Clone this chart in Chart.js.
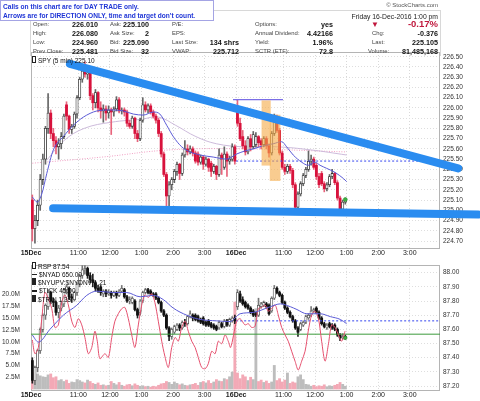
<!DOCTYPE html>
<html>
<head>
<meta charset="utf-8">
<script src="https://cdn.jsdelivr.net/npm/chart.js@4.4.1/dist/chart.umd.min.js"></script>
<style>
 html,body{margin:0;padding:0;background:#fff;}
 #wrap{position:relative;width:480px;height:401px;overflow:hidden;font-family:"Liberation Sans",Arial,sans-serif;}
 canvas{position:absolute;left:0;}
 #top{top:0;} #bot{top:258px;}
 .t{position:absolute;white-space:nowrap;line-height:9px;height:9px;}
 .l{font-size:5.9px;color:#444;}
 .v{font-size:7.2px;font-weight:bold;color:#111;}
 #info{position:absolute;left:30px;top:10px;width:409px;height:45px;border:1px solid #d8d8d8;border-bottom:none;}
 #call{position:absolute;left:0;top:0;width:212px;height:19px;border:1px solid #a4a4e4;background:#fff;}
 .c{font-size:6.6px;font-weight:bold;color:#1f35d6;}
 .lg{font-size:6.5px;color:#111;}
 .ic{display:inline-block;width:2px;height:5px;border:1px solid #222;background:#fff;margin-right:2px;vertical-align:-0.5px;}
 .ln{display:inline-block;width:5px;height:1.5px;background:#222;margin-right:2px;vertical-align:1.5px;}
</style>
</head>
<body>
<div id="wrap">
<canvas id="top" width="480" height="258"></canvas>
<canvas id="bot" width="480" height="143"></canvas>
<div id="info"></div>
<div class="t" style="right:42px;top:0.5px;font-size:6px;color:#555">© StockCharts.com</div>
<div class="t" style="right:42px;top:11.5px;font-size:6.8px;color:#222">Friday 16-Dec-2016 1:00 pm</div>

<div class="t l" style="left:33px;top:19.5px">Open:</div>
<div class="t v" style="right:382px;top:19.5px">226.010</div>
<div class="t l" style="left:110px;top:19.5px">Ask:</div>
<div class="t v" style="right:331px;top:19.5px">225.100</div>
<div class="t l" style="left:172px;top:19.5px">P/E:</div>
<div class="t l" style="left:255px;top:19.5px">Options:</div>
<div class="t v" style="right:147px;top:19.5px">yes</div>
<div class="t" style="left:371px;top:19.5px;color:#c0173c;font-size:8px">▼</div>
<div class="t v" style="right:42px;top:19px;color:#c0173c;font-size:9.5px">-0.17%</div>

<div class="t l" style="left:33px;top:28.5px">High:</div>
<div class="t v" style="right:382px;top:28.5px">226.080</div>
<div class="t l" style="left:110px;top:28.5px">Ask Size:</div>
<div class="t v" style="right:331px;top:28.5px">2</div>
<div class="t l" style="left:172px;top:28.5px">EPS:</div>
<div class="t l" style="left:255px;top:28.5px">Annual Dividend:</div>
<div class="t v" style="right:147px;top:28.5px">4.42166</div>
<div class="t l" style="left:372px;top:28.5px">Chg:</div>
<div class="t v" style="right:42px;top:28.5px">-0.376</div>

<div class="t l" style="left:33px;top:37.5px">Low:</div>
<div class="t v" style="right:382px;top:37.5px">224.960</div>
<div class="t l" style="left:110px;top:37.5px">Bid:</div>
<div class="t v" style="right:331px;top:37.5px">225.090</div>
<div class="t l" style="left:172px;top:37.5px">Last Size:</div>
<div class="t v" style="right:241px;top:37.5px">134 shrs</div>
<div class="t l" style="left:255px;top:37.5px">Yield:</div>
<div class="t v" style="right:147px;top:37.5px">1.96%</div>
<div class="t l" style="left:372px;top:37.5px">Last:</div>
<div class="t v" style="right:42px;top:37.5px">225.105</div>

<div class="t l" style="left:33px;top:46.5px">Prev Close:</div>
<div class="t v" style="right:382px;top:46.5px">225.481</div>
<div class="t l" style="left:110px;top:46.5px">Bid Size:</div>
<div class="t v" style="right:331px;top:46.5px">32</div>
<div class="t l" style="left:172px;top:46.5px">VWAP:</div>
<div class="t v" style="right:241px;top:46.5px">225.712</div>
<div class="t l" style="left:255px;top:46.5px">SCTR (ETF):</div>
<div class="t v" style="right:147px;top:46.5px">72.8</div>
<div class="t l" style="left:368px;top:46.5px">Volume:</div>
<div class="t v" style="right:42px;top:46.5px">81,485,168</div>

<div id="call"></div>
<div class="t c" style="left:3px;top:1.5px">Calls on this chart are for DAY TRADE only.</div>
<div class="t c" style="left:3px;top:11px">Arrows are for DIRECTION ONLY, time and target don't count.</div>

<div class="t lg" style="left:32px;top:55.5px"><span class="ic"></span>SPY (5 min) 225.10</div>

<div class="t lg" style="left:32px;top:261.5px"><span class="ic"></span>RSP 87.54</div>
<div class="t lg" style="left:32px;top:269.5px"><span class="ln"></span>$NYAD 650.00</div>
<div class="t lg" style="left:32px;top:277.5px"><span class="ic" style="background:#222"></span>$NYUPV:$NYDNV 1.21</div>
<div class="t lg" style="left:32px;top:286px"><span class="ln"></span>$TICK 45.00</div>
<div class="t lg" style="left:32px;top:294.5px"><span class="ic" style="background:#222"></span>$TRIN 1.35</div>
</div>

<script>
// ---------- axis ticks ----------
const tickIdx = [0, 18, 30, 42, 54, 66, 78, 96, 108, 120, 132, 144];
const tickLbl = ['15Dec','11:00','12:00','1:00','2:00','3:00','16Dec','11:00','12:00','1:00','2:00','3:00'];
const spyTicks = [224.7,224.8,224.9,225.0,225.1,225.2,225.3,225.4,225.5,225.6,225.7,225.8,225.9,226.0,226.1,226.2,226.3,226.4,226.5];
const rspTicks = [87.2,87.3,87.4,87.5,87.6,87.7,87.8,87.9,88.0];
const volTicks = [2.5,5,7.5,10,12.5,15,17.5,20];

// ---------- SPY 5-min candles (15 Dec 9:30 -> 16 Dec 1:00) ----------
const spyOpen = [
225.10,224.82,224.90,225.05,225.30,225.50,225.80,225.95,225.75,225.68,
225.62,225.65,225.72,226.03,225.92,225.79,225.82,225.94,226.10,226.28,
226.36,226.33,226.34,226.12,226.05,226.15,226.00,225.97,225.99,225.95,
225.98,225.96,225.99,226.08,225.97,225.98,225.96,225.85,225.82,225.90,
225.75,225.70,225.88,226.03,225.98,226.02,225.96,225.92,225.88,225.75,
225.55,225.35,225.14,225.25,225.30,225.38,225.45,225.36,225.54,225.60,
225.57,225.60,225.56,225.55,225.47,225.52,225.45,225.50,225.46,225.38,
225.43,225.35,225.54,225.42,225.55,225.48,225.50,225.62,
226.01,225.85,225.72,225.63,225.57,225.70,225.62,225.64,225.72,225.68,
225.64,225.70,225.63,225.56,225.75,225.91,225.78,225.56,225.42,225.38,
225.43,225.39,225.25,225.03,225.16,225.26,225.34,225.40,225.48,225.50,
225.44,225.33,225.36,225.26,225.21,225.25,225.33,225.36,225.27,225.12,
225.01,225.08];
const spyHigh = [
225.15,224.95,225.10,225.35,225.55,225.82,226.14,225.98,225.80,225.72,
225.70,225.76,225.94,226.06,225.93,225.84,225.96,226.12,226.30,226.40,
226.45,226.40,226.36,226.14,226.18,226.16,226.06,226.03,226.02,226.02,
226.00,226.01,226.11,226.10,226.00,226.00,225.98,225.88,225.92,225.91,
225.78,225.90,226.10,226.06,226.04,226.04,225.98,225.94,225.90,225.77,
225.57,225.37,225.28,225.32,225.40,225.47,225.46,225.56,225.68,225.64,
225.63,225.62,225.58,225.57,225.54,225.53,225.52,225.51,225.48,225.45,
225.44,225.60,225.56,225.62,225.57,225.53,225.65,225.64,
226.08,225.90,225.78,225.68,225.72,225.74,225.77,225.76,225.73,225.70,
225.72,225.72,225.65,225.77,225.94,225.93,225.80,225.58,225.45,225.45,
225.45,225.41,225.27,225.18,225.28,225.36,225.42,225.58,225.54,225.52,
225.46,225.36,225.38,225.28,225.27,225.35,225.40,225.37,225.29,225.14,
225.10,225.12];
const spyLow = [
224.70,224.68,224.85,225.00,225.25,225.45,225.75,225.70,225.62,225.55,
225.50,225.60,225.70,225.88,225.75,225.75,225.80,225.90,226.08,226.25,
226.30,226.28,226.08,225.98,226.00,225.96,225.90,225.86,225.88,225.90,
225.74,225.92,225.97,225.95,225.94,225.92,225.82,225.80,225.80,225.70,
225.67,225.68,225.86,225.96,225.95,225.94,225.90,225.85,225.72,225.52,
225.33,225.03,225.04,225.20,225.27,225.34,225.30,225.34,225.52,225.54,
225.55,225.53,225.46,225.44,225.45,225.40,225.43,225.38,225.33,225.36,
225.30,225.33,225.35,225.40,225.33,225.45,225.48,225.45,
225.82,225.68,225.60,225.54,225.55,225.58,225.60,225.62,225.62,225.60,
225.62,225.60,225.52,225.54,225.73,225.76,225.54,225.40,225.35,225.36,
225.36,225.22,224.97,225.00,225.14,225.24,225.32,225.38,225.44,225.40,
225.30,225.22,225.24,225.18,225.19,225.23,225.31,225.25,225.10,224.96,
225.00,225.06];
const spyClose = [
224.82,224.90,225.05,225.30,225.50,225.80,225.95,225.75,225.68,225.62,
225.65,225.72,225.92,225.92,225.79,225.82,225.94,226.10,226.28,226.36,
226.33,226.34,226.12,226.05,226.15,226.00,225.97,225.99,225.95,225.98,
225.96,225.99,226.08,225.97,225.98,225.96,225.85,225.82,225.90,225.75,
225.70,225.88,226.03,225.98,226.02,225.96,225.92,225.88,225.75,225.55,
225.35,225.14,225.25,225.30,225.38,225.45,225.36,225.54,225.60,225.57,
225.60,225.56,225.48,225.47,225.52,225.45,225.50,225.42,225.38,225.43,
225.35,225.54,225.50,225.55,225.48,225.50,225.62,225.48,
225.85,225.70,225.63,225.57,225.70,225.62,225.74,225.72,225.66,225.64,
225.70,225.63,225.56,225.75,225.91,225.78,225.56,225.42,225.38,225.43,
225.39,225.25,225.03,225.16,225.26,225.34,225.40,225.48,225.50,225.42,
225.33,225.25,225.26,225.21,225.25,225.33,225.36,225.27,225.12,225.01,
225.08,225.105];

// SPY moving average: bar position / value
const spyMaX = [0,1.9,3.6,5.5,8,11.8,15.6,19.4,24.5,29.5,34.6,38.4,42.2,46,48.5,51.1,53.6,56.8,60,63.8,68.8,73.9,77.7,80.9,84,87.8,91.6,94.8,96.7,99.2,102.4,104.9,107.5,109.4,111.9,115.1,118.3,119.5];
const spyMaY = [225.13,225.08,225.16,225.36,225.59,225.72,225.83,225.91,225.97,225.98,225.97,225.94,225.93,225.96,225.94,225.83,225.72,225.62,225.57,225.54,225.52,225.50,225.55,225.58,225.60,225.63,225.65,225.67,225.62,225.54,225.47,225.44,225.47,225.44,225.41,225.37,225.31,225.28];
// faint longer averages
const slowMaX = [5.5,12,19.7,30,41.6,48,54.5,62.2,70,80.3,93,105.9,119.5];
const slowMaY = [225.49,225.68,225.80,225.86,225.89,225.91,225.83,225.72,225.65,225.62,225.62,225.59,225.54];
const longMaX = [0,26.6,52.3,80.6,119.5];
const longMaY = [225.46,225.52,225.59,225.60,225.57];

// annotations on the price panel
const spyPrevClose = 225.481;
const dayTwoStart = 77.5;
const hodLevel = 226.08, hodFrom = 76.3, hodTo = 95.3;
const upperTrendX = [14.3, 161.9], upperTrendY = [226.43, 225.41];
const lowerTrendX = [7.9, 169.5],  lowerTrendY = [225.02, 224.96];
const boxX = [88.9, 92.3], boxLo = [225.44, 225.29], boxHi = [226.07, 225.93];
const lastIdx = 119, lastSpy = 225.105, lastRsp = 87.54;

// ---------- lower panel: RSP candles ----------
const rspOpen = [
87.38,87.24,87.33,87.45,87.60,87.70,87.76,87.86,87.80,87.79,
87.72,87.75,87.78,87.88,87.89,87.83,87.81,87.86,87.92,87.98,
88.02,88.03,87.98,87.95,87.93,87.89,87.90,87.85,87.87,87.85,
87.86,87.84,87.86,87.84,87.87,87.88,87.83,87.80,87.79,87.80,
87.74,87.72,87.80,87.86,87.88,87.87,87.85,87.85,87.82,87.79,
87.73,87.70,87.61,87.55,87.58,87.60,87.63,87.61,87.65,87.64,
87.69,87.70,87.70,87.69,87.67,87.68,87.65,87.66,87.64,87.63,
87.62,87.61,87.64,87.62,87.66,87.63,87.66,87.68,
87.76,87.85,87.81,87.79,87.77,87.75,87.73,87.71,87.70,87.76,
87.77,87.78,87.77,87.73,87.82,87.89,87.86,87.84,87.79,87.75,
87.72,87.69,87.66,87.61,87.60,87.63,87.65,87.68,87.70,87.73,
87.75,87.72,87.68,87.64,87.61,87.64,87.63,87.63,87.60,87.56,
87.54,87.55];
const rspHigh = [
87.40,87.34,87.46,87.61,87.71,87.78,87.88,87.87,87.82,87.80,
87.77,87.80,87.89,87.91,87.90,87.85,87.87,87.93,87.99,88.05,
88.05,88.04,88.00,87.99,87.94,87.91,87.91,87.88,87.88,87.88,
87.87,87.87,87.87,87.88,87.91,87.89,87.84,87.83,87.83,87.81,
87.75,87.81,87.87,87.89,87.89,87.88,87.86,87.86,87.83,87.80,
87.74,87.71,87.62,87.61,87.63,87.64,87.64,87.66,87.67,87.70,
87.73,87.71,87.71,87.70,87.68,87.69,87.66,87.67,87.65,87.64,
87.63,87.66,87.65,87.67,87.67,87.68,87.69,87.70,
87.88,87.87,87.83,87.80,87.78,87.76,87.74,87.72,87.82,87.79,
87.80,87.79,87.78,87.83,87.91,87.90,87.87,87.85,87.80,87.76,
87.73,87.70,87.67,87.62,87.65,87.66,87.70,87.71,87.76,87.75,
87.76,87.73,87.69,87.65,87.64,87.65,87.64,87.64,87.61,87.57,
87.57,87.56];
const rspLow = [
87.22,87.21,87.30,87.43,87.58,87.67,87.74,87.78,87.76,87.70,
87.68,87.73,87.76,87.85,87.81,87.79,87.80,87.84,87.90,87.96,
87.99,87.96,87.93,87.90,87.87,87.86,87.84,87.83,87.83,87.84,
87.82,87.83,87.82,87.83,87.86,87.82,87.79,87.78,87.78,87.73,
87.68,87.70,87.79,87.85,87.85,87.84,87.83,87.81,87.78,87.72,
87.69,87.60,87.52,87.53,87.57,87.59,87.59,87.60,87.62,87.63,
87.68,87.66,87.66,87.65,87.64,87.63,87.62,87.62,87.61,87.60,
87.59,87.60,87.61,87.61,87.62,87.62,87.65,87.64,
87.74,87.79,87.77,87.75,87.74,87.71,87.69,87.69,87.69,87.75,
87.76,87.75,87.70,87.72,87.81,87.85,87.83,87.78,87.74,87.71,
87.68,87.65,87.60,87.55,87.59,87.62,87.64,87.67,87.69,87.72,
87.71,87.67,87.63,87.61,87.60,87.61,87.60,87.59,87.55,87.52,
87.53,87.53];
const rspClose = [
87.24,87.33,87.45,87.60,87.70,87.77,87.86,87.80,87.79,87.72,
87.75,87.78,87.88,87.90,87.83,87.82,87.86,87.92,87.98,88.02,
88.03,87.98,87.95,87.93,87.89,87.87,87.86,87.87,87.85,87.86,
87.84,87.86,87.84,87.87,87.89,87.83,87.80,87.81,87.82,87.74,
87.70,87.80,87.86,87.88,87.86,87.85,87.84,87.82,87.79,87.73,
87.70,87.61,87.55,87.60,87.62,87.63,87.61,87.65,87.64,87.69,
87.71,87.68,87.67,87.66,87.65,87.64,87.63,87.63,87.62,87.61,
87.60,87.65,87.62,87.66,87.63,87.67,87.68,87.66,
87.86,87.80,87.78,87.76,87.75,87.72,87.70,87.70,87.77,87.78,
87.79,87.76,87.71,87.82,87.89,87.86,87.84,87.79,87.75,87.72,
87.69,87.66,87.61,87.58,87.64,87.65,87.69,87.70,87.73,87.74,
87.72,87.68,87.64,87.62,87.63,87.62,87.61,87.60,87.56,87.54,
87.55,87.54];
const rspMaX = [0,2.3,6.7,11.8,16.9,20.7,24.5,30.8,35.9,41,46,49.8,53.6,58.7,63.8,70.1,75.2,79,84.1,90.5,94.3,98.1,100.6,104.4,109.5,113.3,117.1,119.5];
const rspMaY = [87.56,87.51,87.60,87.70,87.77,87.84,87.87,87.86,87.86,87.83,87.84,87.81,87.75,87.70,87.67,87.66,87.655,87.71,87.72,87.76,87.78,87.76,87.74,87.71,87.71,87.69,87.67,87.64];
const rspPrevClose = 87.66;
const greenLevel = 87.566;

// volume (millions)
const volume = [
3.5,3.0,3.2,2.8,2.6,2.5,3.0,3.2,2.4,2.6,
1.8,2.0,1.6,1.9,1.2,1.5,1.4,2.0,1.8,1.5,
1.3,1.9,1.6,1.2,1.0,1.3,0.8,0.9,0.7,0.8,
1.6,1.2,0.9,1.4,0.8,0.6,0.9,1.0,0.7,1.1,
0.8,0.6,0.7,0.5,0.6,0.4,0.6,0.5,0.8,1.1,
1.2,1.6,1.4,1.0,1.5,1.2,0.9,1.1,0.8,0.7,
0.9,1.0,1.2,0.8,1.4,1.6,1.3,1.8,1.2,1.5,
2.0,1.7,1.6,2.2,2.0,2.6,3.6,18.4,
3.4,2.2,3.0,2.6,1.8,2.5,2.0,17.0,1.6,1.9,
1.4,1.7,1.2,1.5,5.0,1.8,2.2,1.5,1.9,3.4,
1.2,1.5,1.3,2.6,3.0,2.0,1.0,0.9,0.6,0.8,
0.5,0.7,0.6,0.9,0.5,0.7,0.6,0.8,1.0,1.4,
1.0,0.6];

// red breadth overlay (own hidden scale, 0-100)
const breadthX = [0,1,2.3,3.6,4.8,6.1,7.4,8.6,9.9,11.2,12.4,13.7,15,16.2,17.5,18.8,20,21.3,22.6,23.8,24.7,25.7,27.6,28.9,30.2,31.4,32.7,34,35.2,36.5,37.8,39,40.3,41.6,42.8,44.1,45.4,46.6,47.9,49.2,50.4,51.7,53,54.3,55.5,56.8,58.1,59.3,60.6,61.9,63.1,64.4,65.7,66.9,68.2,69.5,70.7,72,73.3,74.5,75.4,77.7,
79,80.9,82.1,83.4,84.7,85.9,87.2,88.5,89.7,91,92.3,93.5,94.8,96.1,97.3,98.6,99.9,101.1,102.4,103.7,104.9,106.2,107.5,108.8,110,111.3,112.6,113.8,115.1,116.4,117.6,118.9];
const breadthY = [40,29,34,57,78,73,65,50,52,70,76,68,55,50,57,52,42,29,34,47,39,25,29,26,42,55,61,65,66,57,44,34,52,68,76,74,77,70,55,39,27,18,34,42,39,50,55,47,39,34,26,18,17,21,31,29,39,37,44,39,34,55,
57,52,53,50,51,65,66,68,63,65,68,60,50,44,39,31,23,16,23,31,47,60,63,57,39,23,37,52,50,44,39,47];

// ---------- helpers ----------
Chart.defaults.font.family = '"Liberation Sans", Arial, sans-serif';
Chart.defaults.color = '#333';
const idx = spyClose.map((_, i) => i);
const pts = (xs, ys) => xs.map((x, k) => ({x, y: ys[k]}));
const seg = (a, b, y) => [{x: a, y}, {x: b, y}];

const frame = {id: 'frame', beforeDatasetsDraw(c) {
  const a = c.chartArea, g = c.ctx;
  g.save(); g.strokeStyle = '#b4b4b4'; g.lineWidth = 1;
  g.strokeRect(Math.round(a.left) + 0.5, Math.round(a.top) + 0.5, Math.round(a.right - a.left) - 1, Math.round(a.bottom - a.top));
  g.restore();
}};

function xScale(h) {
  return {
    type: 'linear', min: -0.5, max: 155, offset: false,
    afterBuildTicks: s => { s.ticks = tickIdx.map(v => ({value: v - 0.5})); },
    afterFit: s => { s.height = h; },
    ticks: {autoSkip: false, maxRotation: 0, padding: 1, color: '#222',
      font: c => ({size: 7, weight: /Dec/.test(tickLbl[c.index] || '') ? 'bold' : 'normal'}),
      callback: (v, i) => tickLbl[i]},
    grid: {color: '#d9d9d9', drawTicks: false, offset: false},
    border: {display: false, dash: [1, 2]}
  };
}
function lineDs(data, color, width, yID, order, extra) {
  return Object.assign({type: 'line', data, yAxisID: yID, borderColor: color, borderWidth: width,
    pointRadius: 0, fill: false, order, clip: false}, extra || {});
}
function candles(O, H, L, C, yID, sty) {
  const up = i => C[i] >= O[i];
  return [
    {type: 'bar', yAxisID: yID, grouped: false, order: 5, barThickness: 1,
     data: idx.map(i => ({x: i, y: [L[i], H[i]]})),
     backgroundColor: idx.map(i => up(i) ? sty.wickUp : sty.wickDn)},
    {type: 'bar', yAxisID: yID, grouped: false, order: 4, barThickness: 2.4, minBarLength: 1,
     data: idx.filter(up).map(i => ({x: i, y: [O[i], C[i]]})),
     backgroundColor: '#ffffff', borderColor: sty.upLine, borderWidth: 0.8, borderSkipped: false},
    {type: 'bar', yAxisID: yID, grouped: false, order: 4, barThickness: 2.2, minBarLength: 1,
     data: idx.filter(i => !up(i)).map(i => ({x: i, y: [O[i], C[i]]})),
     backgroundColor: sty.dnFill}
  ];
}
const common = {responsive: false, animation: false, events: [],
  plugins: {legend: {display: false}, tooltip: {enabled: false}}};

// ---------- top: SPY price panel ----------
new Chart(document.getElementById('top'), {
  type: 'line',
  data: {datasets: [
    lineDs(pts(upperTrendX, upperTrendY), '#2a8cf0', 8, 'y', 0, {borderCapStyle: 'round'}),
    lineDs(pts(lowerTrendX, lowerTrendY), '#2a8cf0', 8, 'y', 0, {borderCapStyle: 'round'}),
    ...boxX.map((x, k) => ({type: 'bar', yAxisID: 'y', grouped: false, order: 1,
      barThickness: k === 0 ? 8.5 : 10, data: [{x, y: [boxLo[k], boxHi[k]]}],
      backgroundColor: 'rgba(245,170,70,0.6)'})),
    {type: 'scatter', yAxisID: 'y', order: 1, data: [{x: lastIdx, y: lastSpy}],
      pointRadius: 2, pointBackgroundColor: '#3cb043', pointBorderColor: '#2a8a2a', borderWidth: 0.5},
    lineDs(pts(spyMaX, spyMaY), '#5b5bd6', 1, 'y', 2, {tension: 0.4, cubicInterpolationMode: 'monotone'}),
    lineDs(seg(hodFrom, hodTo, hodLevel), '#7a6ee6', 1.2, 'y', 3),
    lineDs(seg(dayTwoStart, 155, spyPrevClose), '#3344ee', 1, 'y', 3, {borderDash: [2, 2]}),
    ...candles(spyOpen, spyHigh, spyLow, spyClose, 'y',
      {wickUp: '#666', wickDn: '#e8647c', upLine: '#333', dnFill: '#d8123c'}),
    lineDs(pts(slowMaX, slowMaY), 'rgba(200,180,215,0.9)', 1, 'y', 6, {tension: 0.4}),
    lineDs(pts(longMaX, longMaY), 'rgba(240,150,190,0.9)', 1, 'y', 6, {tension: 0.4, borderDash: [1, 1.5]})
  ]},
  options: Object.assign({}, common, {
    layout: {padding: {left: 31, top: 52, right: 0, bottom: 0}},
    scales: {
      x: xScale(10),
      y: {position: 'right', min: 224.632, max: 226.546,
        afterBuildTicks: s => { s.ticks = spyTicks.map(v => ({value: v})); },
        afterFit: s => { s.width = 40; },
        ticks: {font: {size: 6.5}, color: '#333', padding: 3, callback: v => v.toFixed(2)},
        grid: {color: '#dedede', drawTicks: false},
        border: {display: false, dash: [1, 2]}}
    }
  }),
  plugins: [frame]
});

// ---------- bottom: RSP / breadth / volume panel ----------
new Chart(document.getElementById('bot'), {
  type: 'line',
  data: {datasets: [
    {type: 'scatter', yAxisID: 'yR', order: 1, data: [{x: lastIdx, y: lastRsp}],
      pointRadius: 1.8, pointBackgroundColor: '#3cb043', pointBorderColor: '#2a8a2a', borderWidth: 0.5},
    lineDs(pts(rspMaX, rspMaY), '#5b5bd6', 1, 'yR', 2, {tension: 0.4, cubicInterpolationMode: 'monotone'}),
    lineDs(pts(breadthX, breadthY), '#e5506e', 1, 'yB', 3, {tension: 0.3}),
    lineDs(seg(-0.5, 155, greenLevel), '#3c9a3c', 1, 'yR', 3),
    lineDs(seg(dayTwoStart, 155, rspPrevClose), '#3344ee', 1, 'yR', 3, {borderDash: [2, 2]}),
    ...candles(rspOpen, rspHigh, rspLow, rspClose, 'yR',
      {wickUp: '#777', wickDn: '#222', upLine: '#555', dnFill: '#111'}),
    {type: 'bar', yAxisID: 'yV', grouped: false, order: 7, barThickness: 2.2,
      data: idx.map(i => ({x: i, y: volume[i]})),
      backgroundColor: idx.map(i => spyClose[i] >= spyOpen[i] ? '#bdbdbd' : '#f3a9b6')}
  ]},
  options: Object.assign({}, common, {
    layout: {padding: {left: 0, top: 4, right: 0, bottom: 0}},
    scales: {
      x: xScale(11),
      yV: {position: 'left', min: -0.2, max: 26.25,
        afterBuildTicks: s => { s.ticks = volTicks.map(v => ({value: v})); },
        afterFit: s => { s.width = 31; },
        ticks: {font: {size: 6.5}, color: '#333', padding: 3, callback: v => v.toFixed(1) + 'M'},
        grid: {display: false}, border: {display: false}},
      yR: {position: 'right', min: 87.172, max: 88.055,
        afterBuildTicks: s => { s.ticks = rspTicks.map(v => ({value: v})); },
        afterFit: s => { s.width = 40; },
        ticks: {font: {size: 6.5}, color: '#333', padding: 3, callback: v => v.toFixed(2)},
        grid: {color: '#dedede', drawTicks: false},
        border: {display: false, dash: [1, 2]}},
      yB: {display: false, min: 0, max: 100}
    }
  }),
  plugins: [frame]
});
</script>
</body>
</html>
